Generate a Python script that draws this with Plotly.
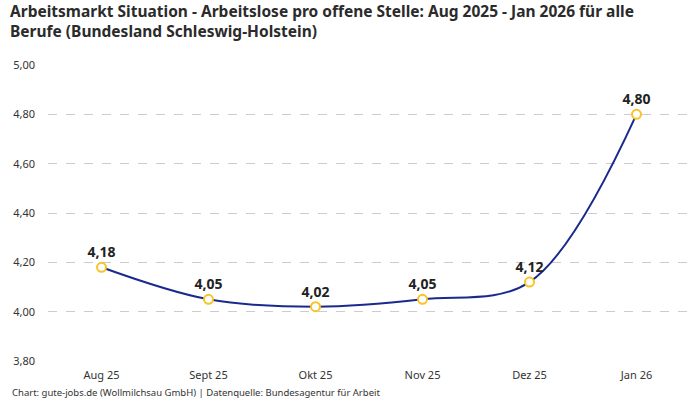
import plotly.graph_objects as go

# Data
monate = ['Aug 25', 'Sept 25', 'Okt 25', 'Nov 25', 'Dez 25', 'Jan 26']
werte = [4.18, 4.05, 4.02, 4.05, 4.12, 4.80]
labels = ['4,18', '4,05', '4,02', '4,05', '4,12', '4,80']
y_ticks = [3.8, 4.0, 4.2, 4.4, 4.6, 4.8, 5.0]

FONT = 'Noto Sans'

fig = go.Figure()
fig.add_trace(go.Scatter(
    x=monate, y=werte,
    mode='lines+markers+text',
    line=dict(color='#1a2a8c', width=2, shape='spline', smoothing=1.0),
    marker=dict(size=9, color='white', line=dict(color='#f7c325', width=2)),
    text=['<b>' + t + '</b>' for t in labels], textposition='top center',
    textfont=dict(family=FONT, size=14, color='#222222'),
    cliponaxis=False,
    hoverinfo='skip',
))

fig.update_layout(
    width=700, height=400,
    margin=dict(l=48, r=10, t=65, b=39),
    paper_bgcolor='white', plot_bgcolor='white',
    showlegend=False,
    separators=',.',
    font=dict(family=FONT, color='#333333'),
    xaxis=dict(
        type='category', range=[-0.5, 5.5],
        showgrid=False, showline=False, zeroline=False,
        ticks='', ticklabelstandoff=6,
        tickfont=dict(size=11, color='#333333'),
    ),
    yaxis=dict(
        range=[3.8, 5.0], tickvals=y_ticks, tickformat='.2f',
        showgrid=True, gridcolor='#cccccc', griddash='dash', gridwidth=1,
        zeroline=False, showline=False, ticks='', ticklabelstandoff=12,
        tickfont=dict(size=11, color='#333333'),
    ),
    annotations=[
        dict(
            text='<b>Arbeitsmarkt Situation - Arbeitslose pro offene Stelle: Aug 2025 - Jan 2026 für alle<br>Berufe (Bundesland Schleswig-Holstein)</b>',
            x=-0.062, xref='paper', xanchor='left', align='left',
            y=1.226, yref='paper', yanchor='top',
            showarrow=False, font=dict(family=FONT, size=15.5, color='#2b2b2b'),
        ),
        dict(
            text='Chart: gute-jobs.de (Wollmilchsau GmbH) | Datenquelle: Bundesagentur für Arbeit',
            x=-0.059, xref='paper', xanchor='left',
            y=-0.108, yref='paper', yanchor='middle',
            showarrow=False, font=dict(family=FONT, size=9.5, color='#333333'),
        ),
    ],
)

fig.write_html('out.html', config={'displayModeBar': False},
               post_script="document.body.style.margin='0';")
